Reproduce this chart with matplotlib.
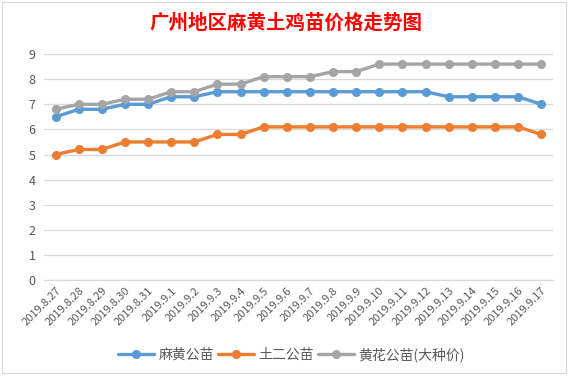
import matplotlib
matplotlib.use("Agg")
import matplotlib.pyplot as plt
from matplotlib.patches import Rectangle

plt.rcParams['font.family'] = ['Noto Sans CJK SC', 'DejaVu Sans']

dates = ["2019.8.27", "2019.8.28", "2019.8.29", "2019.8.30", "2019.8.31",
         "2019.9.1", "2019.9.2", "2019.9.3", "2019.9.4", "2019.9.5", "2019.9.6",
         "2019.9.7", "2019.9.8", "2019.9.9", "2019.9.10", "2019.9.11", "2019.9.12",
         "2019.9.13", "2019.9.14", "2019.9.15", "2019.9.16", "2019.9.17"]
mahuang = [6.5, 6.8, 6.8, 7.0, 7.0, 7.3, 7.3, 7.5, 7.5, 7.5, 7.5,
           7.5, 7.5, 7.5, 7.5, 7.5, 7.5, 7.3, 7.3, 7.3, 7.3, 7.0]
tuer = [5.0, 5.2, 5.2, 5.5, 5.5, 5.5, 5.5, 5.8, 5.8, 6.1, 6.1,
        6.1, 6.1, 6.1, 6.1, 6.1, 6.1, 6.1, 6.1, 6.1, 6.1, 5.8]
huanghua = [6.8, 7.0, 7.0, 7.2, 7.2, 7.5, 7.5, 7.8, 7.8, 8.1, 8.1,
            8.1, 8.3, 8.3, 8.6, 8.6, 8.6, 8.6, 8.6, 8.6, 8.6, 8.6]
series_names = ["麻黄公苗", "土二公苗", "黄花公苗(大种价)"]
colors = ["#5B9BD5", "#ED7D31", "#A5A5A5"]
yticks = list(range(0, 10))

fig = plt.figure(figsize=(5.71, 3.78), dpi=100)
fig.patches.append(Rectangle((0.004, 0.012), 0.988, 0.982, transform=fig.transFigure,
                             fill=False, edgecolor="#D9D9D9", linewidth=0.8))
ax = fig.add_axes([0.077, 0.259, 0.891, 0.598])

x = list(range(len(dates)))
for vals, name, c in zip([mahuang, tuer, huanghua], series_names, colors):
    ax.plot(x, vals, color=c, linewidth=2.4, marker='o', markersize=5.5, label=name,
            solid_capstyle='round')

ax.set_xlim(-0.5, len(dates) - 0.5)
ax.set_ylim(0, 9)
ax.set_yticks(yticks)
ax.set_yticklabels([str(v) for v in yticks], fontsize=9, color="#595959")
ax.set_xticks(x)
ax.set_xticklabels(dates, rotation=45, ha='right', rotation_mode='anchor',
                   fontsize=8, color="#595959")
ax.tick_params(axis='both', length=0, pad=6)
ax.tick_params(axis='x', pad=4)
ax.grid(axis='y', color="#D9D9D9", linewidth=0.9)
ax.set_axisbelow(True)
for s in ['top', 'right', 'left']:
    ax.spines[s].set_visible(False)
ax.spines['bottom'].set_color("#D9D9D9")

fig.text(0.5, 0.94, "广州地区麻黄土鸡苗价格走势图", ha='center', va='center',
         fontsize=14, color="#FF0000", fontweight='bold')

leg = fig.legend(loc='center', bbox_to_anchor=(0.51, 0.062), ncol=3, frameon=False,
                 fontsize=10, handlelength=2.6, columnspacing=0.3, handletextpad=0.3)
for t in leg.get_texts():
    t.set_color("#595959")

fig.savefig("out.png", dpi=100)
